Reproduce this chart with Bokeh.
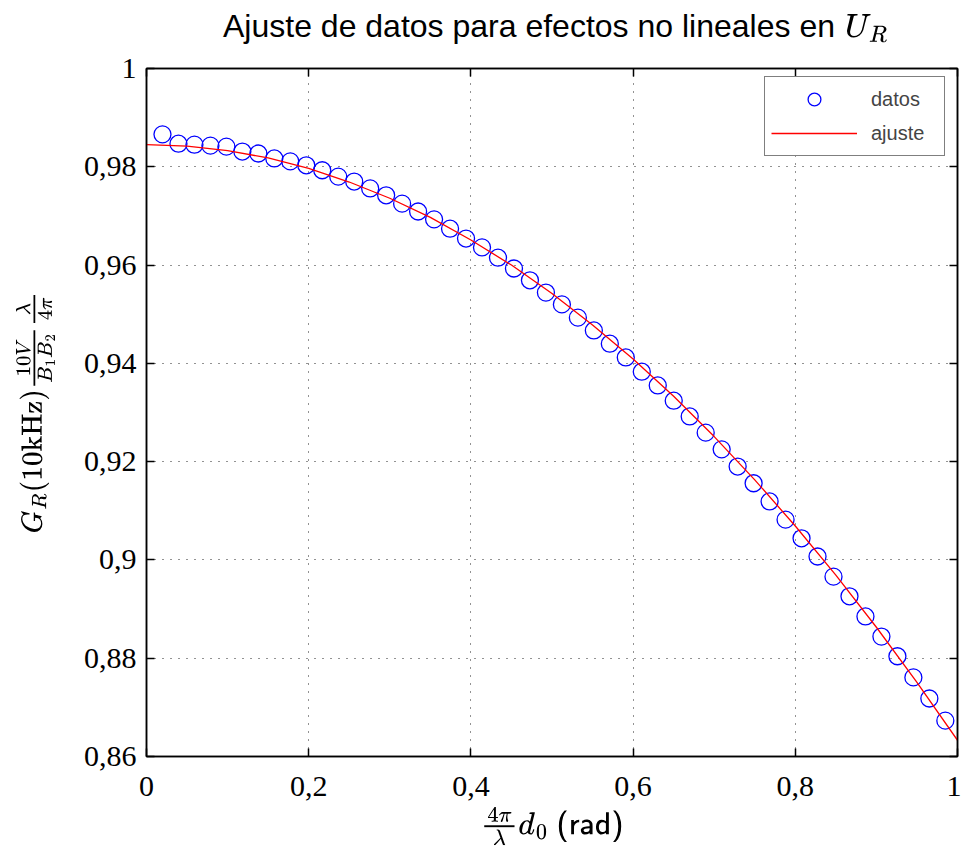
from bokeh.plotting import figure
from bokeh.layouts import column
from bokeh.models import (FixedTicker, LinearAxis, Range1d, Legend, LegendItem,
                          CustomJSTickFormatter, Div)
from bokeh.embed import file_html
from bokeh.resources import INLINE

# ---------------- data ----------------
x_data = [0.0197, 0.0394, 0.0591, 0.0788, 0.0985, 0.1182, 0.1379, 0.1576, 0.1773, 0.1970,
          0.2167, 0.2364, 0.2561, 0.2758, 0.2955, 0.3152, 0.3349, 0.3546, 0.3743, 0.3940,
          0.4137, 0.4334, 0.4531, 0.4728, 0.4925, 0.5122, 0.5319, 0.5516, 0.5713, 0.5910,
          0.6107, 0.6304, 0.6501, 0.6698, 0.6895, 0.7092, 0.7289, 0.7486, 0.7683, 0.7880,
          0.8077, 0.8274, 0.8471, 0.8668, 0.8865, 0.9062, 0.9259, 0.9456, 0.9653, 0.9850]
y_data = [0.9866, 0.9847, 0.9845, 0.9843, 0.9841, 0.9831, 0.9827, 0.9817, 0.9811, 0.9803,
          0.9793, 0.9780, 0.9770, 0.9756, 0.9742, 0.9725, 0.9709, 0.9693, 0.9674, 0.9654,
          0.9636, 0.9615, 0.9593, 0.9569, 0.9544, 0.9520, 0.9493, 0.9467, 0.9440, 0.9412,
          0.9383, 0.9355, 0.9324, 0.9292, 0.9259, 0.9225, 0.9190, 0.9156, 0.9119, 0.9082,
          0.9044, 0.9007, 0.8966, 0.8926, 0.8885, 0.8844, 0.8804, 0.8761, 0.8718, 0.8673]

x_fit = [0.0, 0.05, 0.10, 0.15, 0.20, 0.25, 0.30, 0.35, 0.40, 0.45, 0.50,
         0.55, 0.60, 0.65, 0.70, 0.75, 0.80, 0.85, 0.90, 0.95, 1.0]
y_fit = [0.9845, 0.9842, 0.9833, 0.9818, 0.9797, 0.9769, 0.9736, 0.9697, 0.9651, 0.9600, 0.9542,
         0.9478, 0.9409, 0.9333, 0.9251, 0.9163, 0.9069, 0.8969, 0.8863, 0.8751, 0.8633]

x_ticks = [0.0, 0.2, 0.4, 0.6, 0.8, 1.0]
x_tick_labels = ["0", "0,2", "0,4", "0,6", "0,8", "1"]
y_ticks = [0.86, 0.88, 0.90, 0.92, 0.94, 0.96, 0.98, 1.0]
y_tick_labels = ["0,86", "0,88", "0,9", "0,92", "0,94", "0,96", "0,98", "1"]

title_text = "Ajuste de datos para efectos no lineales en"
title_math = r"\(U_R\)"
x_label = r"$$\tfrac{4\pi}{\lambda}d_0\ \textsf{(rad)}$$"
y_label = r"$$G_R(10\mathrm{kHz})\tfrac{10V}{B_1B_2}\tfrac{\lambda}{4\pi}$$"
legend_labels = ["datos", "ajuste"]

# ---------------- title (HTML text + inline math) ----------------
title_div = Div(
    text=('<div style="margin-left:223px;margin-top:4px;font-family:\'Liberation Sans\','
          'sans-serif;font-size:32px;white-space:nowrap;color:black;">'
          + title_text + '<span style="margin-left:10px;font-size:28px;">' + title_math
          + "</span></div>"),
    width=961, height=50, margin=0)

# ---------------- figure ----------------
p = figure(width=961, height=800, output_backend="svg", toolbar_location=None,
           x_range=Range1d(0, 1), y_range=Range1d(0.86, 1),
           min_border_left=146, min_border_right=4, min_border_top=18,
           min_border_bottom=94, margin=0)
p.background_fill_color = "white"
p.border_fill_color = "white"
p.outline_line_color = "black"
p.outline_line_width = 1.5

FMT_CODE = """
for (let i = 0; i < vals.length; i++) {
  if (Math.abs(vals[i] - tick) < 1e-9) { return labs[i]; }
}
return '';
"""


def style_axis(ax, ticks, labels, show):
    ax.ticker = FixedTicker(ticks=ticks)
    ax.major_tick_in = 8
    ax.major_tick_out = 0
    ax.minor_tick_in = 0
    ax.minor_tick_out = 0
    ax.axis_line_color = "black"
    ax.axis_line_width = 1.5
    ax.major_tick_line_color = "black"
    ax.major_tick_line_width = 1.5
    if show:
        ax.formatter = CustomJSTickFormatter(args=dict(vals=ticks, labs=labels), code=FMT_CODE)
        ax.major_label_text_font = "Liberation Serif"
        ax.major_label_text_font_size = "30px"
        ax.major_label_text_color = "black"
    else:
        ax.formatter = CustomJSTickFormatter(code="return '';")
        ax.major_label_text_font_size = "0px"
        ax.major_label_text_color = None
        ax.major_label_standoff = 0


style_axis(p.xaxis[0], x_ticks, x_tick_labels, True)
style_axis(p.yaxis[0], y_ticks, y_tick_labels, True)
p.xaxis[0].major_label_standoff = 20
p.yaxis[0].major_label_standoff = 10
p.xaxis[0].axis_label = x_label
p.xaxis[0].axis_label_text_font_size = "26px"
p.xaxis[0].axis_label_standoff = 8
p.xaxis[0].axis_label_text_color = "black"
p.yaxis[0].axis_label = y_label
p.yaxis[0].axis_label_text_font_size = "23px"
p.yaxis[0].axis_label_standoff = 26
p.yaxis[0].axis_label_text_color = "black"

top_axis = LinearAxis()
style_axis(top_axis, x_ticks, x_tick_labels, False)
p.add_layout(top_axis, "above")
right_axis = LinearAxis()
style_axis(right_axis, y_ticks, y_tick_labels, False)
p.add_layout(right_axis, "right")

for g, t in ((p.xgrid[0], x_ticks), (p.ygrid[0], y_ticks)):
    g.ticker = FixedTicker(ticks=t)
    g.grid_line_color = "black"
    g.grid_line_alpha = 0.85
    g.grid_line_width = 1
    g.grid_line_dash = "1 7"

# ---------------- data ----------------
r_data = p.scatter(x_data, y_data, marker="circle", size=17, fill_color=None,
                   line_color="#0000ff", line_width=1.3)
r_fit = p.line(x_fit, y_fit, line_color="#ff0000", line_width=1.3)

legend = Legend(items=[LegendItem(label=legend_labels[0], renderers=[r_data]),
                       LegendItem(label=legend_labels[1], renderers=[r_fit])],
                location=(618, 600), glyph_width=86, glyph_height=32,
                label_height=32, label_width=67, label_standoff=14, spacing=2,
                padding=6, margin=0, border_line_color="black",
                border_line_width=1.5, label_text_font="Liberation Sans",
                label_text_font_size="20px", background_fill_color="white",
                background_fill_alpha=1)
p.add_layout(legend)

layout = column(title_div, p, spacing=0, margin=0)
open("out.html", "w").write(file_html(layout, INLINE))
